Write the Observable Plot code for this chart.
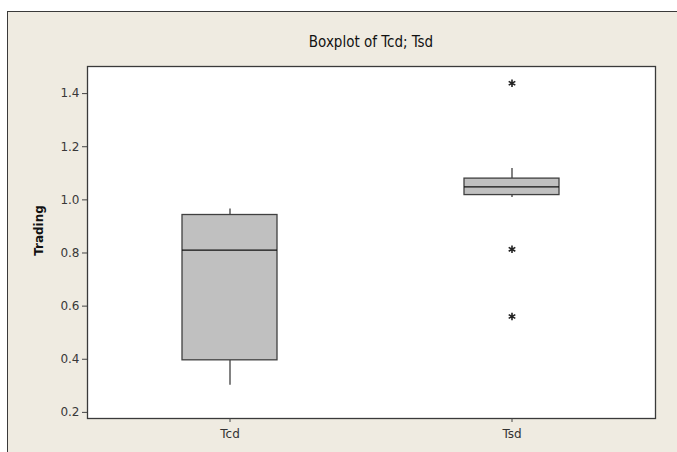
<!DOCTYPE html>
<html>
<head>
<meta charset="utf-8">
<script src="https://cdn.jsdelivr.net/npm/d3@7"></script>
<script src="https://cdn.jsdelivr.net/npm/@observablehq/plot@0.6"></script>
<style>
  html, body { margin: 0; padding: 0; background: #ffffff; width: 677px; height: 452px; overflow: hidden; }
  #frame { position: absolute; left: 7px; top: 11px; width: 680px; height: 450px;
           background: #EFEBE1; border-top: 1px solid #3a3a3a; border-left: 1px solid #3a3a3a; }
  #title { position: absolute; left: 0; top: 33px; width: 742px; text-align: center;
           font-family: "DejaVu Sans Condensed", "DejaVu Sans", sans-serif; font-size: 15px; color: #111; }
  #chart { position: absolute; left: 0; top: 55px; }
  #chart svg { background: transparent !important; font-family: "DejaVu Sans", sans-serif; }
</style>
</head>
<body>
<div id="frame"></div>
<div id="title">Boxplot of Tcd; Tsd</div>
<div id="chart"></div>
<script>
const categories = ["Tcd", "Tsd"];
const whiskerLow = [0.302, 1.009];
const q1 = [0.396, 1.018];
const median = [0.811, 1.049];
const q3 = [0.943, 1.080];
const whiskerHigh = [0.966, 1.118];
const outlierGroup = ["Tsd", "Tsd", "Tsd"];
const outlierValue = [1.439, 0.814, 0.561];
const yTicks = [0.2, 0.4, 0.6, 0.8, 1.0, 1.2, 1.4];
const yLabel = "Trading";

const boxes = categories.map((c, i) => ({
  cat: c, lo: whiskerLow[i], q1: q1[i], med: median[i], q3: q3[i], hi: whiskerHigh[i]
}));
const outliers = outlierGroup.map((g, i) => ({cat: g, v: outlierValue[i]}));

const chart = Plot.plot({
  width: 677,
  height: 397,
  marginLeft: 87,
  marginRight: 22,
  marginTop: 11,
  marginBottom: 34,
  style: {background: "transparent", fontSize: "12px", color: "#333"},
  x: {domain: categories, paddingInner: 0.6625, paddingOuter: 0.335, label: null},
  y: {domain: [0.177, 1.502], label: null},
  marks: [
    Plot.frame({fill: "white", stroke: "none"}),
    Plot.ruleX(boxes, {x: "cat", y1: "lo", y2: "q1", stroke: "#404040", strokeWidth: 1.3}),
    Plot.ruleX(boxes, {x: "cat", y1: "q3", y2: "hi", stroke: "#404040", strokeWidth: 1.3}),
    Plot.barY(boxes, {x: "cat", y1: "q1", y2: "q3", fill: "#C0C0C0", stroke: "#404040", strokeWidth: 1.3}),
    Plot.tickY(boxes, {x: "cat", y: "med", stroke: "#111", strokeWidth: 1.3}),
    Plot.dot(outliers, {x: "cat", y: "v", symbol: "asterisk", r: 3.6, stroke: "#222", strokeWidth: 1.6}),
    Plot.frame({stroke: "#3a3a3a", strokeWidth: 1.3}),
    Plot.axisY({ticks: yTicks, tickFormat: d3.format(".1f"), tickSize: 5, tickPadding: 3,
                label: null, stroke: "#444", fill: "#383838", fontSize: 12}),
    Plot.text([yLabel], {frameAnchor: "left", textAnchor: "middle", dx: -48, dy: -12, rotate: -90, text: d => d,
                fontWeight: "bold", fontSize: 12, fill: "#111"}),
    Plot.axisX({tickSize: 4, tickPadding: 7, label: null, stroke: "#444", fill: "#333", fontSize: 12})
  ]
});
document.getElementById("chart").appendChild(chart);
</script>
</body>
</html>
